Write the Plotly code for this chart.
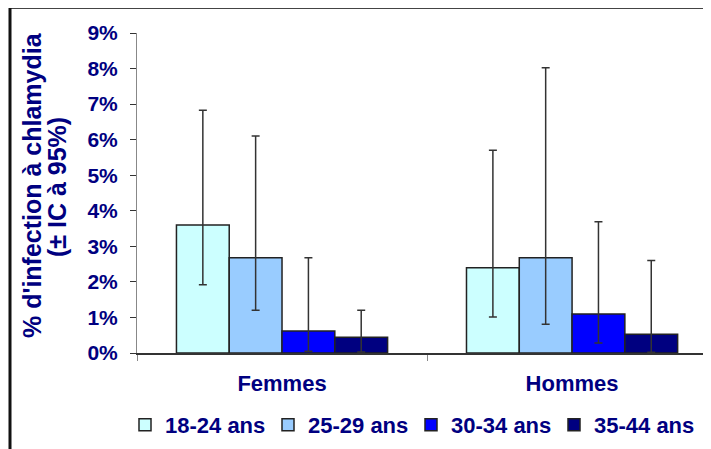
import plotly.graph_objects as go

groups = ["Femmes", "Hommes"]
age_classes = ["18-24 ans", "25-29 ans", "30-34 ans", "35-44 ans"]
colors = ["#CCFFFF", "#99CCFF", "#0000FF", "#000080"]
# prevalence (%) per age class, for [Femmes, Hommes]
values = {
    "18-24 ans": [3.6, 2.4],
    "25-29 ans": [2.68, 2.68],
    "30-34 ans": [0.62, 1.1],
    "35-44 ans": [0.44, 0.53],
}
ci_low = {
    "18-24 ans": [1.92, 1.01],
    "25-29 ans": [1.2, 0.81],
    "30-34 ans": [0.05, 0.28],
    "35-44 ans": [0.03, 0.02],
}
ci_high = {
    "18-24 ans": [6.83, 5.7],
    "25-29 ans": [6.1, 8.02],
    "30-34 ans": [2.68, 3.69],
    "35-44 ans": [1.2, 2.6],
}
y_ticks = list(range(0, 10))
y_tick_labels = [f"{t}%" for t in y_ticks]

OFF = 8  # page body margin
W, H = 711 - OFF, 449 - OFF
L, R, T, B = 137, 711, 33, 353   # plot area in screen pixels
navy = "#000080"
font_family = "Liberation Sans, Arial, sans-serif"

def px(x):
    return (x - L) / (R - L)

def py(y):
    return (B - y) / (B - T)

fig = go.Figure()
for age, col in zip(age_classes, colors):
    v = values[age]
    fig.add_trace(go.Bar(
        x=groups, y=v, name=age,
        marker=dict(color=col, line=dict(color="#222222", width=1.5)),
        error_y=dict(
            type="data", symmetric=False,
            array=[h - m for h, m in zip(ci_high[age], v)],
            arrayminus=[m - l for m, l in zip(v, ci_low[age])],
            color="#333333", thickness=1.5, width=4,
        ),
    ))

fig.update_layout(
    width=W, height=H,
    margin=dict(l=L - OFF, r=711 - R, t=T - OFF, b=449 - B, autoexpand=False),
    paper_bgcolor="white", plot_bgcolor="white",
    barmode="group", bargap=0.272, bargroupgap=0,
    font=dict(family=font_family, size=22, color=navy, weight="bold"),
    showlegend=True,
    legend=dict(
        orientation="h", x=px(125), xanchor="left", y=py(425), yanchor="middle",
        entrywidth=98, entrywidthmode="pixels", itemwidth=30,
        font=dict(family=font_family, size=22, color=navy, weight="bold"),
        bgcolor="rgba(0,0,0,0)", traceorder="normal",
    ),
    xaxis=dict(
        type="category", range=[-0.5, 1.479], tickson="boundaries",
        ticks="outside", ticklen=6, tickcolor="#888888",
        showline=True, linecolor="#333333", linewidth=1.5,
        showgrid=False, zeroline=False, ticklabelstandoff=10,
        tickfont=dict(family=font_family, size=22, color=navy, weight="bold"),
    ),
    yaxis=dict(
        range=[0, 9], tickvals=y_ticks, ticktext=y_tick_labels,
        ticks="outside", ticklen=6, tickcolor="#333333",
        showline=True, linecolor="#888888", linewidth=1,
        showgrid=False, zeroline=False, ticklabelstandoff=8,
        tickfont=dict(family=font_family, size=21, color=navy, weight="bold"),
    ),
)

fig.add_annotation(
    text="% d'infection à chlamydia", textangle=-90,
    xref="paper", yref="paper", x=px(32), y=py(185),
    xanchor="center", yanchor="middle", showarrow=False,
    font=dict(family=font_family, size=25, color=navy, weight="bold"),
)
fig.add_annotation(
    text="(± IC à 95%)", textangle=-90,
    xref="paper", yref="paper", x=px(57), y=py(187),
    xanchor="center", yanchor="middle", showarrow=False,
    font=dict(family=font_family, size=25, color=navy, weight="bold"),
)

# outer chart border (top and left visible)
fig.add_shape(type="line", xref="paper", yref="paper",
              x0=px(10), x1=px(720), y0=py(8), y1=py(8),
              line=dict(color="#444444", width=2))
fig.add_shape(type="line", xref="paper", yref="paper",
              x0=px(10), x1=px(10), y0=py(8), y1=py(460),
              line=dict(color="#111111", width=3))

fig.write_html("out.html")
